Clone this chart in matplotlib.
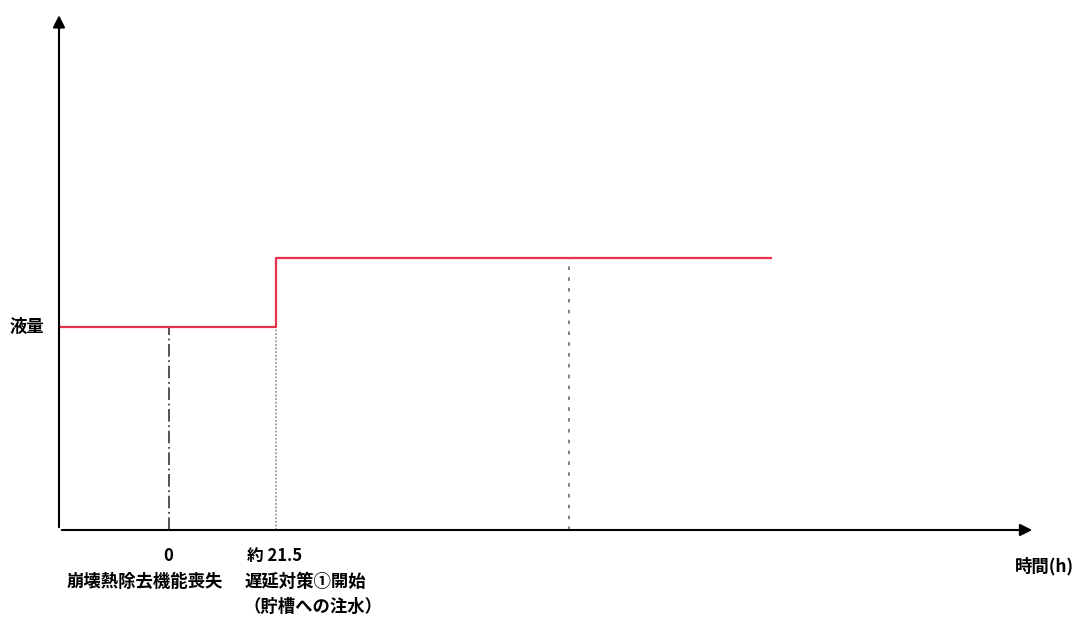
import matplotlib.pyplot as plt

plt.rcParams['font.family'] = ['Noto Sans CJK JP', 'DejaVu Sans']

# 時間(h) と液量（相対値）
step_t = [-22.0, 21.5, 21.5, 121.0]
step_level = [1.0, 1.0, 1.34, 1.34]
mark_t = [0.0, 21.5, 80.5]
mark_top = [1.0, 1.0, 1.34]
mark_styles = [(0, (7, 2, 1, 2)), (0, (1, 1)), (0, (2, 4))]
mark_colors = ['#444444', '#999999', '#777777']

tick_top = ['0', '約 21.5']
tick_bottom = ['崩壊熱除去機能喪失', '遅延対策①開始']
note = '（貯槽への注水）'

fig = plt.figure(figsize=(10.8, 6.24), dpi=100)
ax = fig.add_axes([59 / 1080, 94 / 624, 976 / 1080, 515 / 624])
ax.set_xlim(-22.0, 174.0)
ax.set_ylim(0, 2.54)
for s in ax.spines.values():
    s.set_visible(False)
ax.set_xticks([])
ax.set_yticks([])

# 軸（矢印）
ax.annotate('', xy=(1.0, 0), xytext=(0, 0), xycoords='axes fraction',
            arrowprops=dict(arrowstyle='-|>', color='black', lw=1.5, mutation_scale=18))
ax.annotate('', xy=(0, 1.005), xytext=(0, 0), xycoords='axes fraction',
            arrowprops=dict(arrowstyle='-|>', color='black', lw=1.5, mutation_scale=18))

for t, top, ls, c in zip(mark_t, mark_top, mark_styles, mark_colors):
    ax.plot([t, t], [0, top], ls=ls, color=c, lw=1.3)

ax.plot(step_t, step_level, color='#e8314d', lw=1.6)

ax.text(-28.5, 1.0, '液量', ha='center', va='center', fontsize=12.5, fontweight='bold')
fig.text(1074 / 1080, 1 - 566 / 624, '時間(h)', ha='right', va='center',
         fontsize=12.5, fontweight='bold')

ax.text(0.0, -0.05, tick_top[0], transform=ax.get_xaxis_transform(), ha='center', va='center',
        fontsize=12, fontweight='bold')
ax.text(-20.5, -0.10, tick_bottom[0], transform=ax.get_xaxis_transform(), ha='left', va='center',
        fontsize=12.5, fontweight='bold')
ax.text(15.8, -0.05, tick_top[1], transform=ax.get_xaxis_transform(), ha='left', va='center',
        fontsize=12, fontweight='bold')
ax.text(15.3, -0.10, tick_bottom[1], transform=ax.get_xaxis_transform(), ha='left', va='center',
        fontsize=12.5, fontweight='bold')
ax.text(15.0, -0.15, note, transform=ax.get_xaxis_transform(), ha='left', va='center',
        fontsize=12.5, fontweight='bold')

fig.savefig('out.png', dpi=100)
